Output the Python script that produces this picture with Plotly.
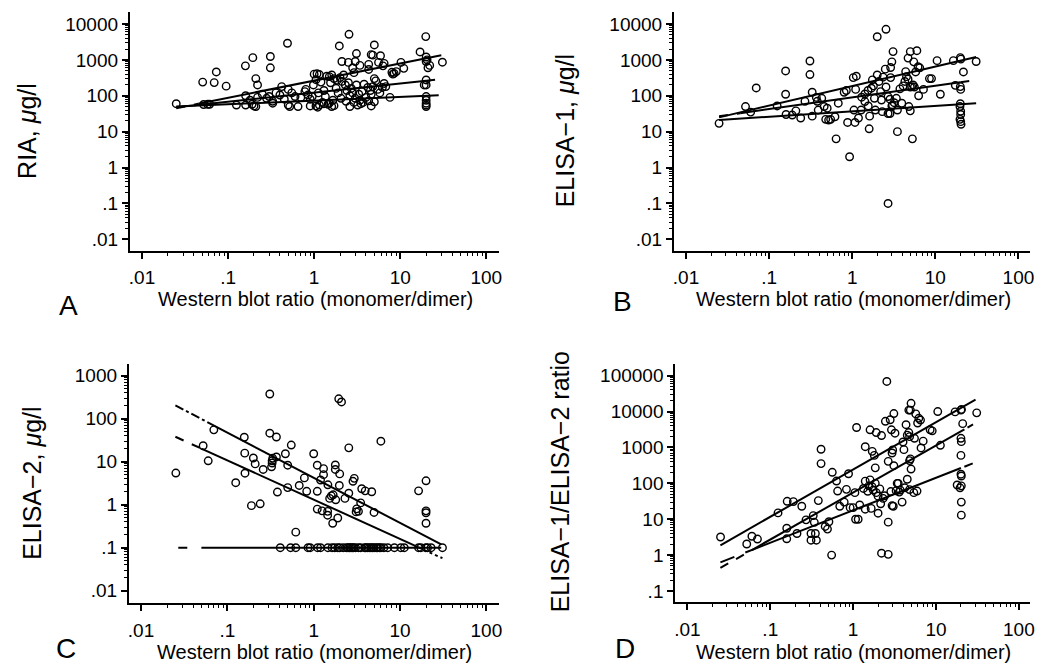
import math
import plotly.graph_objects as go

W, H = 1051, 666

# ---------------- data ----------------
# Panel A: RIA vs Western blot ratio
ria_x = [0.025, 0.0507, 0.069, 0.073, 0.095, 0.052, 0.058, 0.061, 0.159, 0.194, 0.21, 0.22, 0.31, 0.31, 0.49,
         0.125, 0.16, 0.19, 0.2, 0.21, 0.33, 0.5, 0.52, 0.65, 0.9, 1.05, 1.1, 1.15, 1.3, 1.5, 1.6, 1.7, 2.6, 3.2, 3.5, 4.6, 5.0, 1.25, 1.45,
         0.16, 0.18, 0.22, 0.25, 0.28, 0.3, 0.33, 0.36, 0.4, 0.42, 0.45, 0.5, 0.55, 0.6, 0.7, 0.78, 0.8, 0.85, 0.9, 0.95,
         1.0, 1.08, 1.15, 1.05, 1.2, 1.3, 1.4, 1.5, 1.6, 1.55, 1.7, 1.8, 1.85, 1.9, 2.0, 2.1, 2.2, 2.3, 2.4, 2.5, 2.6, 2.7, 2.8, 2.9,
         3.0, 3.1, 3.3, 3.4, 3.6, 3.8, 4.0, 4.2, 4.3, 4.5, 4.6, 4.8, 5.0, 5.2, 5.5, 5.8, 6.2, 6.8, 7.6, 1.35, 1.65, 2.05, 2.35, 2.9,
         3.7, 4.3, 1.12, 0.98,
         2.54, 1.96, 5.0, 3.1, 4.6, 4.8, 5.9, 2.1, 2.5, 3.0, 4.3, 5.6, 6.5, 2.8, 3.4, 6.3,
         17, 19.8, 20, 20.5, 20, 30.9, 10.2, 11, 8, 8.5, 8.2, 21, 22, 20, 19, 20, 20, 20, 20, 20, 20, 6.5, 9]
ria_y = [60, 240, 232, 460, 185, 57, 58, 58, 680, 1150, 300, 200, 1240, 600, 2900,
         55, 55, 58, 52, 50, 62, 55, 50, 50, 52, 52, 48, 55, 60, 62, 50, 53, 50, 55, 60, 52, 68, 65, 58,
         100, 75, 90, 110, 85, 95, 70, 120, 105, 180, 80, 150, 120, 95, 90, 130, 150, 105, 80, 95,
         400, 410, 390, 280, 240, 140, 350, 340, 380, 230, 300, 160, 270, 120, 320, 250, 380, 200, 140, 230, 100, 160, 120, 440,
         85, 200, 110, 75, 130, 210, 90, 170, 540, 140, 110, 180, 300, 260, 150, 120, 170, 180, 90, 95, 75, 85, 70, 65,
         65, 72, 120, 200,
         5150, 2440, 2600, 1500, 1400, 1350, 1300, 900, 850, 900, 750, 850, 800, 600, 700, 680,
         1660, 4440, 1200, 1000, 900, 860, 850, 580, 450, 420, 400, 600, 700, 275, 200, 200, 95, 75, 62, 55, 50, 220, 470]

# Panel B: ELISA-1
elisa1_x = [0.025, 0.052, 0.06, 0.07, 0.158, 0.158, 0.16, 0.19, 0.21, 0.24, 0.125, 0.27, 0.31, 0.31, 0.33, 0.33, 0.37, 0.38,
            0.39, 0.43, 0.46, 0.5, 0.48, 0.52, 0.55, 0.62, 0.64, 0.68, 0.8, 0.85, 0.88, 0.93, 1.03, 1.12, 1.05, 1.08, 1.1,
            1.6, 1.62, 2.0, 2.55, 2.7, 3.1, 3.0, 2.9, 2.5, 2.9, 3.5, 4.7, 5.0, 6.0, 5.5, 5.3, 6.2, 6.5, 5.8, 10.5, 11.5,
            8.5, 9, 7.2, 6.3, 16.5, 20, 20.3, 21.8, 31, 17.4, 20, 20.2, 20, 19.8, 20.2, 20.2, 19.8, 20.2, 20.4,
            1.3, 1.42, 1.42, 1.55, 1.7, 1.75, 1.8, 1.85, 2.0, 2.1, 2.2, 2.25, 2.35, 2.55, 2.7, 2.85, 3.0, 2.85, 3.05, 3.2,
            3.4, 3.5, 3.75, 3.95, 4.1, 4.3, 4.4, 4.5, 4.7, 5.0, 5.2, 5.4, 5.6, 4.8, 5.0, 1.56, 1.9, 2.3, 2.7, 1.19, 1.28]
elisa1_y = [17, 50, 35, 165, 490, 110, 30, 29, 38, 24, 52, 70, 930, 390, 125, 27, 90, 70,
            40, 85, 50, 45, 22, 21, 22, 26, 6.3, 62, 125, 140, 18, 2.0, 320, 350, 40, 18, 150,
            12, 27, 4400, 7100, 0.1, 1700, 880, 610, 550, 320, 10, 1120, 1700, 1800, 880, 6.3, 640, 600, 460, 950, 110,
            300, 300, 150, 100, 950, 1150, 1050, 460, 900, 195, 180, 150, 60, 50, 37, 30, 22, 19, 16,
            91, 112, 69, 140, 162, 276, 188, 85, 380, 250, 130, 76, 330, 175, 95, 80, 52, 32, 55, 64,
            85, 40, 155, 62, 188, 250, 470, 340, 290, 175, 180, 200, 175, 50, 38, 52, 40, 36, 32, 24, 40]

# Panel C: ELISA-2
elisa2_x = [0.0253, 0.0524, 0.06, 0.0697, 0.125, 0.157, 0.159, 0.16, 0.19, 0.2, 0.21, 0.24, 0.26, 0.31, 0.31, 0.33, 0.33,
            0.325, 0.335, 0.37, 0.37, 0.38, 0.47, 0.5, 0.5, 0.55, 0.62, 0.68, 0.78, 0.83, 1.0, 1.1, 1.1, 1.1, 1.2, 1.25,
            1.3, 1.3, 1.45, 1.45, 1.46, 1.53, 1.6, 1.66, 1.68, 1.8, 1.78, 1.78, 1.9, 1.95, 2.1, 1.98, 2.0, 2.3, 2.55,
            2.55, 2.85, 2.95, 3.1, 3.15, 3.3, 3.5, 3.6, 3.95, 4.7, 5.0, 6.0, 16.4, 20, 20, 20, 20,
            0.41, 0.54, 0.62, 0.86, 0.91, 1.11, 1.2, 1.46, 1.63, 1.75, 1.9, 2.0, 2.2, 2.4, 2.5, 2.6, 2.7, 2.8, 2.9,
            3.05, 3.3, 3.5, 3.9, 4.0, 4.2, 4.4, 4.6, 4.8, 5.0, 5.3, 5.5, 5.8, 6.0, 6.5, 7.2, 8.6, 10.2, 11.2, 16.4,
            17.4, 19.9, 20.8, 22.9, 31]
elisa2_y = [5.45, 23.5, 10.5, 55, 3.25, 37, 15.8, 5.4, 0.95, 12.2, 8.9, 1.05, 6.6, 375, 46, 10.5, 9.3,
            7.6, 12, 37.5, 12.9, 1.97, 15.3, 8.3, 2.5, 24.4, 0.23, 2.8, 4.2, 2.05, 15.3, 2.05, 8.3, 0.79, 3.75, 0.72,
            6.9, 5.0, 0.7, 0.57, 2.9, 1.4, 1.6, 0.37, 1.7, 1.3, 8.4, 6.6, 0.49, 290, 245, 2.8, 5.2, 1.4, 1.85,
            21, 3.5, 4.1, 0.68, 0.8, 0.7, 1.1, 2.35, 2.1, 2.0, 0.66, 30, 2.1, 3.6, 0.72, 0.65, 0.37,
            0.1, 0.1, 0.1, 0.1, 0.1, 0.1, 0.1, 0.1, 0.1, 0.1, 0.1, 0.1, 0.1, 0.1, 0.1, 0.1, 0.1, 0.1, 0.1,
            0.1, 0.1, 0.1, 0.1, 0.1, 0.1, 0.1, 0.1, 0.1, 0.1, 0.1, 0.1, 0.1, 0.1, 0.1, 0.1, 0.1, 0.1, 0.1, 0.1,
            0.1, 0.1, 0.1, 0.1, 0.1]

# Panel D: ELISA-1/ELISA-2 ratio
ratio_x = [0.0251, 0.052, 0.06, 0.07, 0.124, 0.158, 0.158, 0.16, 0.19, 0.21, 0.24, 0.27, 0.31, 0.31, 0.33, 0.34, 0.35,
           0.36, 0.38, 0.41, 0.41, 0.46, 0.49, 0.51, 0.55, 0.56, 0.63, 0.65, 0.69, 0.78, 0.83, 0.88, 0.92, 1.0, 1.1,
           1.05, 1.07, 1.15, 1.33, 1.4, 1.4, 1.2, 1.4, 1.65, 1.6, 1.7, 1.8, 1.9, 1.85, 1.85, 1.7, 1.9, 2.0, 2.15, 2.0,
           2.2, 2.2, 2.3, 2.55, 2.45, 2.65, 2.65, 2.65, 2.8, 3.1, 2.9, 3.0, 2.95, 3.1, 3.2, 2.85, 2.95, 3.05, 3.5, 3.6,
           3.7, 3.9, 4.0, 4.1, 4.35, 4.5, 4.7, 4.8, 4.7, 4.9, 5.0, 4.8, 4.9, 5.0, 4.8, 5.4, 5.9, 5.7, 6.0, 6.2, 6.5,
           5.5, 6.6, 7.0, 8.5, 9.0, 10.5, 11.3, 17, 20, 20.3, 21, 31, 20, 20.2, 20, 18, 19.5, 20, 20.2, 20.2, 20.2,
           20.2, 1.5, 1.55, 1.6, 1.75, 2.1, 2.4, 3.3, 3.4, 4.2, 4.5]
ratio_y = [3.2, 2.04, 3.35, 2.8, 15, 5.6, 2.85, 31.6, 31, 4.0, 23, 9.6, 2.6, 4.0, 12.6, 8.2, 4.0,
           2.6, 33, 890, 355, 6.3, 5.3, 8.5, 1.0, 203, 116, 61, 23, 30, 68, 185, 21, 21, 3600,
           55, 10, 10, 72, 115, 1050, 25, 19, 20, 3100, 780, 600, 2600, 270, 100, 80, 55, 44, 27, 14.7,
           1.13, 2150, 38, 69000, 5350, 410, 8.3, 1.05, 5900, 8800, 3100, 850, 700, 310, 2500, 59, 24, 23, 100, 57,
           65, 30, 1420, 870, 4300, 2200, 2600, 2000, 11000, 11000, 17000, 430, 480, 250, 67, 55, 61, 8600, 4800, 6500, 5800,
           1800, 970, 1500, 3100, 2900, 10000, 1150, 9800, 11000, 11500, 4600, 9200, 1800, 1450, 600, 90, 75, 180, 160, 85, 30,
           13, 60, 85, 125, 65, 70, 45, 62, 100, 75, 130]

# Quantile-regression fit endpoints (x range, fitted values at the ends)
ria_fit_x = [0.025, 30]
ria_fit = {"q75": [45, 1350], "q50": [48, 290], "q25": [50, 104]}
elisa1_fit_x = [0.025, 31]
elisa1_fit = {"q75": [25, 1200], "q50": [27, 276], "q25": [21, 62]}
elisa2_fit_x = [0.025, 31]
elisa2_fit = {"q75": [204, 0.115], "q50": [38, 0.057], "q25": [0.1, 0.1]}
ratio_fit_x = [0.025, 30]
ratio_fit = {"q75": [1.88, 21500], "q50": [0.44, 4800], "q25": [0.63, 385]}

# ---------------- helpers ----------------
FONT = "Liberation Sans, Arial, Helvetica, sans-serif"


def fit_y(xs, ys, x):
    lx0, lx1 = math.log10(xs[0]), math.log10(xs[1])
    ly0, ly1 = math.log10(ys[0]), math.log10(ys[1])
    return 10 ** (ly0 + (ly1 - ly0) * (math.log10(x) - lx0) / (lx1 - lx0))


def px_x(p):
    return p / W


def px_y(p):
    return 1 - p / H


fig = go.Figure()

panels = [
    ("A", ria_x, ria_y, ria_fit_x, ria_fit, {
        "q75": [(0.025, 0.045, "dash"), (0.045, 30, "solid")],
        "q50": [(0.025, 20, "solid"), (20, 30, "dash")],
        "q25": [(0.025, 28, "solid")]}, ""),
    ("B", elisa1_x, elisa1_y, elisa1_fit_x, elisa1_fit, {
        "q75": [(0.025, 31, "solid")],
        "q50": [(0.025, 0.045, "dash"), (0.045, 20, "solid"), (20, 31, "dash")],
        "q25": [(0.025, 31, "solid")]}, "2"),
    ("C", elisa2_x, elisa2_y, elisa2_fit_x, elisa2_fit, {
        "q75": [(0.025, 0.07, "dashdot"), (0.07, 30, "solid")],
        "q50": [(0.025, 0.05, "dash"), (0.05, 16.4, "solid"), (16.4, 31, "dot")],
        "q25": [(0.027, 0.042, "dash"), (0.05, 30, "solid")]}, "3"),
    ("D", ratio_x, ratio_y, ratio_fit_x, ratio_fit, {
        "q75": [(0.025, 30, "solid")],
        "q50": [(0.025, 0.06, "dash"), (0.06, 22, "solid"), (24, 28, "dash")],
        "q25": [(0.025, 0.05, "longdash"), (0.05, 20, "solid"), (22, 30, "dash")]}, "4"),
]

for name, xs, ys, fx, fits, segs, ax in panels:
    xa = "x" + ax
    ya = "y" + ax
    fig.add_trace(go.Scatter(
        x=xs, y=ys, mode="markers", xaxis=xa, yaxis=ya,
        marker=dict(symbol="circle-open", size=7.5, color="black", line=dict(width=1.4, color="black")),
        showlegend=False, hoverinfo="skip"))
    for q, ends in fits.items():
        for (a, b, dash) in segs[q]:
            fig.add_trace(go.Scatter(
                x=[a, b], y=[fit_y(fx, ends, a), fit_y(fx, ends, b)],
                mode="lines", xaxis=xa, yaxis=ya,
                line=dict(color="black", width=2, dash=dash),
                showlegend=False, hoverinfo="skip"))


def minor_vals(lo, hi):
    vals = []
    for e in range(lo, hi):
        for m in range(2, 10):
            vals.append(m * 10.0 ** e)
    return vals


x_ticks = [0.01, 0.1, 1, 10, 100]
x_text = [".01", ".1", "1", "10", "100"]

common = dict(
    type="log", showgrid=False, zeroline=False, showline=True, linecolor="black", linewidth=1.6,
    ticks="outside", ticklen=6, tickwidth=1.5, tickcolor="black",
    tickfont=dict(family=FONT, size=19, color="black"), tickmode="array",
    mirror=False, fixedrange=True,
)


def xaxis_conf(dom, rng, anchor):
    return dict(common, domain=dom, range=rng, anchor=anchor, tickvals=x_ticks, ticktext=x_text,
                ticklabelstandoff=3,
                minor=dict(tickmode="array", tickvals=minor_vals(-2, 2), ticks="outside", ticklen=3,
                           tickwidth=1, tickcolor="black"))


def yaxis_conf(dom, rng, anchor, tv, tt, lo, hi):
    return dict(common, domain=dom, range=rng, anchor=anchor, tickvals=tv, ticktext=tt,
                minor=dict(tickmode="array", tickvals=minor_vals(lo, hi), ticks="outside", ticklen=3,
                           tickwidth=1, tickcolor="black"))


yA_ticks = [0.01, 0.1, 1, 10, 100, 1000, 10000]
yA_text = [".01", ".1", "1", "10", "100", "1000", "10000"]
yC_ticks = [0.01, 0.1, 1, 10, 100, 1000]
yC_text = [".01", ".1", "1", "10", "100", "1000"]
yD_ticks = [0.1, 1, 10, 100, 1000, 10000, 100000]
yD_text = [".1", "1", "10", "100", "1000", "10000", "100000"]

domA_x = [px_x(129.3), px_x(500)]
domB_x = [px_x(676), px_x(1034.3)]
domC_x = [px_x(128.3), px_x(500)]
domD_x = [px_x(677.3), px_x(1034.3)]
domTop_y = [px_y(250.7), px_y(12)]
domC_y = [px_y(603), px_y(363.7)]
domD_y = [px_y(602.3), px_y(363.7)]

fig.update_layout(
    width=W, height=H, margin=dict(l=0, r=0, t=0, b=0),
    paper_bgcolor="white", plot_bgcolor="white", showlegend=False,
    font=dict(family=FONT, color="black"),
    xaxis=xaxis_conf(domA_x, [-2.143, 2.143], "y"),
    yaxis=yaxis_conf(domTop_y, [-2.317, 4.333], "x", yA_ticks, yA_text, -2, 4),
    xaxis2=xaxis_conf(domB_x, [-2.147, 2.144], "y2"),
    yaxis2=yaxis_conf(domTop_y, [-2.317, 4.333], "x2", yA_ticks, yA_text, -2, 4),
    xaxis3=xaxis_conf(domC_x, [-2.143, 2.142], "y3"),
    yaxis3=yaxis_conf(domC_y, [-2.286, 3.279], "x3", yC_ticks, yC_text, -2, 3),
    xaxis4=xaxis_conf(domD_x, [-2.149, 2.139], "y4"),
    yaxis4=yaxis_conf(domD_y, [-1.315, 5.334], "x4", yD_ticks, yD_text, -1, 5),
)

annotations = []
xtitle = "Western blot ratio (monomer/dimer)"
for cx, cy in [(316, 299), (857, 299), (315, 652), (857, 652)]:
    annotations.append(dict(text=xtitle, x=px_x(cx), y=px_y(cy), xref="paper", yref="paper",
                            xanchor="center", yanchor="middle", showarrow=False,
                            font=dict(family=FONT, size=20, color="black")))

ytitles = [("RIA, <i>μ</i>g/l", 26, 131), ("ELISA−1, <i>μ</i>g/l", 567, 131),
           ("ELISA−2, <i>μ</i>g/l", 31, 483), ("ELISA−1/ELISA−2 ratio", 562, 482)]
for t, cx, cy in ytitles:
    annotations.append(dict(text=t, x=px_x(cx), y=px_y(cy), xref="paper", yref="paper",
                            xanchor="center", yanchor="middle", showarrow=False, textangle=-90,
                            font=dict(family=FONT, size=25, color="black")))

# panel letters (top pair centred, bottom pair anchored to the bottom edge so they are not clipped)
for t, cx, cy in [("A", 68, 305), ("B", 624.5, 301)]:
    annotations.append(dict(text=t, x=px_x(cx), y=px_y(cy), xref="paper", yref="paper",
                            xanchor="center", yanchor="middle", showarrow=False,
                            font=dict(family=FONT, size=28, color="black")))
for t, cx in [("C", 65), ("D", 627)]:
    annotations.append(dict(text=t, x=px_x(cx), y=0, xref="paper", yref="paper",
                            xanchor="center", yanchor="bottom", showarrow=False,
                            font=dict(family=FONT, size=28, color="black")))

fig.update_layout(annotations=annotations)

fig.write_html("out.html")
